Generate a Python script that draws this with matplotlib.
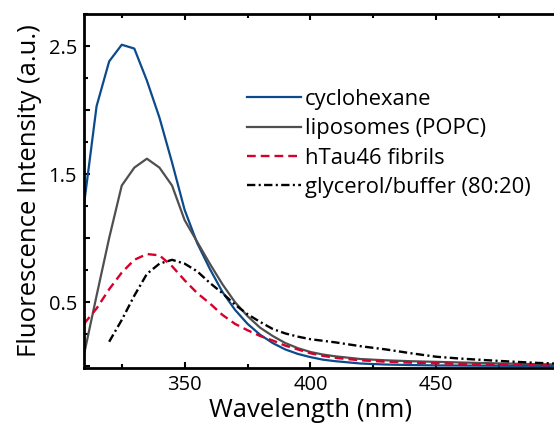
import matplotlib
matplotlib.use("Agg")
import matplotlib.pyplot as plt
from matplotlib.ticker import MultipleLocator, FuncFormatter

plt.rcParams['font.family'] = ['Open Sans', 'DejaVu Sans']
plt.rcParams['lines.scale_dashes'] = False

# Emission spectra (wavelength in nm, intensity in a.u.)
wl_main = [310, 315, 320, 325, 330, 335, 340, 345, 350, 355, 360, 365, 370, 375,
           380, 385, 390, 395, 400, 405, 410, 420, 430, 440, 450, 460, 470, 480,
           490, 500]

cyclohexane = [1.26, 2.03, 2.38, 2.51, 2.48, 2.23, 1.94, 1.59, 1.22, 0.96, 0.76,
               0.58, 0.44, 0.33, 0.245, 0.18, 0.13, 0.095, 0.07, 0.05, 0.038,
               0.02, 0.012, 0.008, 0.005, 0.004, 0.003, 0.002, 0.002, 0.001]

liposomes = [0.09, 0.55, 1.00, 1.41, 1.55, 1.62, 1.55, 1.41, 1.14, 0.97, 0.80,
             0.64, 0.50, 0.39, 0.30, 0.235, 0.18, 0.14, 0.11, 0.09, 0.076,
             0.055, 0.045, 0.038, 0.033, 0.028, 0.023, 0.019, 0.015, 0.012]

fibrils = [0.33, 0.45, 0.60, 0.73, 0.83, 0.875, 0.865, 0.78, 0.67, 0.57, 0.49,
           0.40, 0.33, 0.28, 0.235, 0.20, 0.16, 0.13, 0.10, 0.08, 0.064,
           0.045, 0.034, 0.027, 0.022, 0.017, 0.014, 0.011, 0.008, 0.006]

wl_glycerol = [320, 325, 330, 335, 340, 345, 350, 355, 360, 365, 370, 375, 380,
               385, 390, 395, 400, 410, 420, 430, 440, 450, 460, 470, 480, 490,
               500]
glycerol = [0.19, 0.36, 0.55, 0.72, 0.80, 0.83, 0.80, 0.74, 0.65, 0.57, 0.48,
            0.405, 0.345, 0.29, 0.255, 0.23, 0.21, 0.185, 0.155, 0.13, 0.10,
            0.073, 0.058, 0.046, 0.035, 0.025, 0.018]

labels = ['cyclohexane', 'liposomes (POPC)', 'hTau46 fibrils',
          'glycerol/buffer (80:20)']

W, H = 554, 423
fig = plt.figure(figsize=(W / 100, H / 100), dpi=100)
ax = fig.add_axes([84 / W, 1 - 368 / H, (562 - 84) / W, (368 - 14) / H])

ax.plot(wl_main, cyclohexane, color='#0b4a8c', lw=1.6, label=labels[0])
ax.plot(wl_main, liposomes, color='#4f4f4f', lw=1.6, label=labels[1])
ax.plot(wl_main, fibrils, color='#d6002b', lw=1.7, dashes=(6.3, 3.6),
        label=labels[2])
ax.plot(wl_glycerol, glycerol, color='black', lw=1.7,
        dashes=(6, 2.4, 1.5, 2.4), label=labels[3])

ax.set_xlim(310, 500)
ax.set_ylim(-0.015, 2.75)

ax.xaxis.set_major_locator(MultipleLocator(50))
ax.xaxis.set_minor_locator(MultipleLocator(25))
ax.yaxis.set_major_locator(MultipleLocator(0.5))
ax.yaxis.set_minor_locator(MultipleLocator(0.25))

ax.xaxis.set_major_formatter(
    FuncFormatter(lambda v, p: f"{v:.0f}" if v in (350, 400, 450) else ""))
ax.yaxis.set_major_formatter(
    FuncFormatter(lambda v, p: f"{v:.1f}" if round(v * 2) % 2 == 1 else ""))

ax.tick_params(which='both', direction='in', top=True, right=True,
               width=1.5, labelsize=14.5, pad=5)
ax.tick_params(which='major', length=4.5)
ax.tick_params(which='minor', length=3)
for s in ax.spines.values():
    s.set_linewidth(2.0)

# x label centred under the visible part of the plot
fig.text(310.5 / W, 1 - 417 / H, 'Wavelength (nm)', fontsize=18.5,
         ha='center', va='baseline')
ax.set_ylabel('Fluorescence Intensity (a.u.)', fontsize=18.5, labelpad=5)

leg = ax.legend(loc='upper left', bbox_to_anchor=(247 / W, 1 - 89 / H),
                bbox_transform=fig.transFigure, frameon=False, fontsize=15.8,
                handlelength=2.45, handletextpad=0.2, labelspacing=0.38,
                borderpad=0, borderaxespad=0)

fig.savefig('out.png', dpi=100)
